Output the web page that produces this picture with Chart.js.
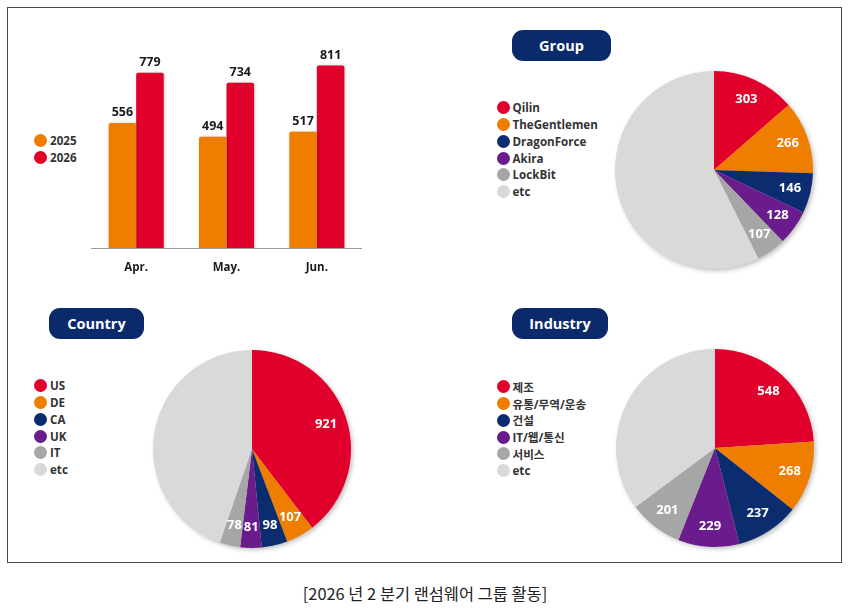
<!DOCTYPE html>
<html><head><meta charset="utf-8">
<script src="https://cdn.jsdelivr.net/npm/chart.js@4.4.1/dist/chart.umd.min.js"></script>
<style>
body{margin:0;background:#fff;}
#wrap{position:relative;width:850px;height:610px;overflow:hidden;background:#fff;font-family:"Open Sans","Noto Sans CJK KR",sans-serif;}
.frame{position:absolute;left:7px;top:7px;width:833px;height:554px;border:1.5px solid #4a4a4a;}
.badge{position:absolute;height:31px;line-height:31px;border-radius:11px;background:#0B2A6C;color:#fff;font-weight:700;font-size:14.5px;text-align:center;}
.legend{position:absolute;}
.li{display:flex;align-items:center;height:16.7px;font-weight:700;font-size:11.6px;color:#333;white-space:nowrap;}
.dot{width:13px;height:13px;border-radius:50%;margin-right:3px;flex:none;}
canvas{position:absolute;}
.cap{position:absolute;left:0;width:850px;top:581px;height:24px;line-height:24px;text-align:center;font-family:"Noto Sans CJK KR",sans-serif;font-size:16.4px;color:#222;}
</style></head>
<body>
<div id="wrap">
  <div class="frame"></div>
  <canvas id="bar" width="271" height="265" style="left:91px;top:23px;width:271px;height:265px;"></canvas>
  <canvas id="pGroup" width="220" height="220" style="left:604px;top:60px;width:220px;height:220px;"></canvas>
  <canvas id="pCountry" width="220" height="220" style="left:142px;top:339px;width:220px;height:220px;"></canvas>
  <canvas id="pIndustry" width="220" height="220" style="left:605px;top:338px;width:220px;height:220px;"></canvas>
  <div class="badge" style="left:512px;top:30px;width:99px;">Group</div>
  <div class="badge" style="left:49px;top:308px;width:95px;">Country</div>
  <div class="badge" style="left:512px;top:308px;width:96px;">Industry</div>
  <div class="legend" id="lgBar" style="left:34px;top:132.6px;"></div>
  <div class="legend" id="lgGroup" style="left:496.5px;top:99.6px;"></div>
  <div class="legend" id="lgCountry" style="left:34px;top:377.6px;"></div>
  <div class="legend" id="lgIndustry" style="left:496.5px;top:378.6px;"></div>
  <div class="cap">[2026 년 2 분기 랜섬웨어 그룹 활동]</div>
</div>
<script>
// ---- data ----
const months = ['Apr.', 'May.', 'Jun.'];
const seriesNames = ['2025', '2026'];
const values2025 = [556, 494, 517];
const values2026 = [779, 734, 811];

const groupLabels = ['Qilin', 'TheGentlemen', 'DragonForce', 'Akira', 'LockBit', 'etc'];
const groupValues = [303, 266, 146, 128, 107, 1280];

const countryLabels = ['US', 'DE', 'CA', 'UK', 'IT', 'etc'];
const countryValues = [921, 107, 98, 81, 78, 1040];

const industryLabels = ['제조', '유통/무역/운송', '건설', 'IT/웹/통신', '서비스', 'etc'];
const industryValues = [548, 268, 237, 229, 201, 805];

// ---- styles ----
const C_RED = '#E1002B', C_ORANGE = '#EF7D00', C_NAVY = '#0B2D70', C_PURPLE = '#6A1B8C', C_GRAY = '#A6A6A6', C_LIGHT = '#D9D9D9';
const pieColors = [C_RED, C_ORANGE, C_NAVY, C_PURPLE, C_GRAY, C_LIGHT];
const barColors = [C_ORANGE, C_RED];
const FONT = '"Open Sans","Noto Sans CJK KR",sans-serif';

function buildLegend(id, labels, colors) {
  const el = document.getElementById(id);
  labels.forEach((l, i) => {
    const row = document.createElement('div');
    row.className = 'li';
    const d = document.createElement('span');
    d.className = 'dot';
    d.style.background = colors[i];
    const t = document.createElement('span');
    t.textContent = l;
    row.appendChild(d); row.appendChild(t);
    el.appendChild(row);
  });
}
buildLegend('lgBar', seriesNames, barColors);
buildLegend('lgGroup', groupLabels, pieColors);
buildLegend('lgCountry', countryLabels, pieColors);
buildLegend('lgIndustry', industryLabels, pieColors);

// ---- bar chart ----
const barShadow = {
  id: 'barShadow',
  beforeDatasetsDraw(chart) {
    const ctx = chart.ctx; ctx.save();
    ctx.shadowColor = 'rgba(0,0,0,0.22)'; ctx.shadowBlur = 3; ctx.shadowOffsetX = 1; ctx.shadowOffsetY = 0;
  },
  afterDatasetsDraw(chart) {
    const ctx = chart.ctx; ctx.restore();
    ctx.save();
    ctx.font = 'bold 12.5px ' + FONT;
    ctx.fillStyle = '#1a1a1a';
    ctx.textAlign = 'center';
    ctx.textBaseline = 'alphabetic';
    chart.data.datasets.forEach((ds, i) => {
      chart.getDatasetMeta(i).data.forEach((bar, j) => {
        ctx.fillText(String(ds.data[j]), bar.x, bar.y - 7);
      });
    });
    ctx.restore();
  }
};

new Chart(document.getElementById('bar'), {
  type: 'bar',
  data: {
    labels: months,
    datasets: [
      { label: seriesNames[0], data: values2025, backgroundColor: barColors[0], borderRadius: {topLeft: 2, topRight: 2}, borderSkipped: 'bottom' },
      { label: seriesNames[1], data: values2026, backgroundColor: barColors[1], borderRadius: {topLeft: 2, topRight: 2}, borderSkipped: 'bottom' }
    ]
  },
  options: {
    responsive: false,
    animation: false,
    events: [],
    layout: { padding: 0 },
    categoryPercentage: 0.61,
    barPercentage: 1.0,
    plugins: { legend: { display: false }, tooltip: { enabled: false } },
    scales: {
      y: { display: false, min: 0, max: 1000 },
      x: {
        grid: { display: false, drawTicks: false },
        border: { display: true, color: '#9a9a9a', width: 1 },
        ticks: { color: '#1a1a1a', font: { family: FONT, size: 11.5, weight: 'bold' }, padding: 13 },
        afterFit(s) { s.height = 40; }
      }
    }
  },
  plugins: [barShadow]
});

// ---- pies ----
const pieDecor = {
  id: 'pieDecor',
  beforeDatasetsDraw(chart) {
    const arc = chart.getDatasetMeta(0).data[0];
    if (!arc) return;
    const ctx = chart.ctx; ctx.save();
    ctx.shadowColor = 'rgba(0,0,0,0.28)'; ctx.shadowBlur = 5; ctx.shadowOffsetX = 2; ctx.shadowOffsetY = 2;
    ctx.fillStyle = '#d0d0d0';
    ctx.beginPath(); ctx.arc(arc.x, arc.y, arc.outerRadius - 0.5, 0, Math.PI * 2); ctx.fill();
    ctx.restore();
  },
  afterDatasetsDraw(chart) {
    const ctx = chart.ctx;
    const ds = chart.data.datasets[0];
    const meta = chart.getDatasetMeta(0);
    ctx.save();
    ctx.font = 'bold 13px ' + FONT;
    ctx.fillStyle = '#ffffff';
    ctx.textAlign = 'center';
    ctx.textBaseline = 'middle';
    meta.data.forEach((a, i) => {
      if (i === meta.data.length - 1) return;
      const mid = (a.startAngle + a.endAngle) / 2;
      const r = a.outerRadius * 0.79;
      ctx.fillText(String(ds.data[i]), a.x + Math.cos(mid) * r, a.y + Math.sin(mid) * r);
    });
    ctx.restore();
  }
};

function makePie(id, labels, values) {
  new Chart(document.getElementById(id), {
    type: 'pie',
    data: { labels: labels, datasets: [{ data: values, backgroundColor: pieColors, borderWidth: 0, hoverOffset: 0 }] },
    options: {
      responsive: false,
      animation: false,
      events: [],
      radius: 99,
      layout: { padding: 0 },
      plugins: { legend: { display: false }, tooltip: { enabled: false } }
    },
    plugins: [pieDecor]
  });
}
makePie('pGroup', groupLabels, groupValues);
makePie('pCountry', countryLabels, countryValues);
makePie('pIndustry', industryLabels, industryValues);
</script>
</body></html>
